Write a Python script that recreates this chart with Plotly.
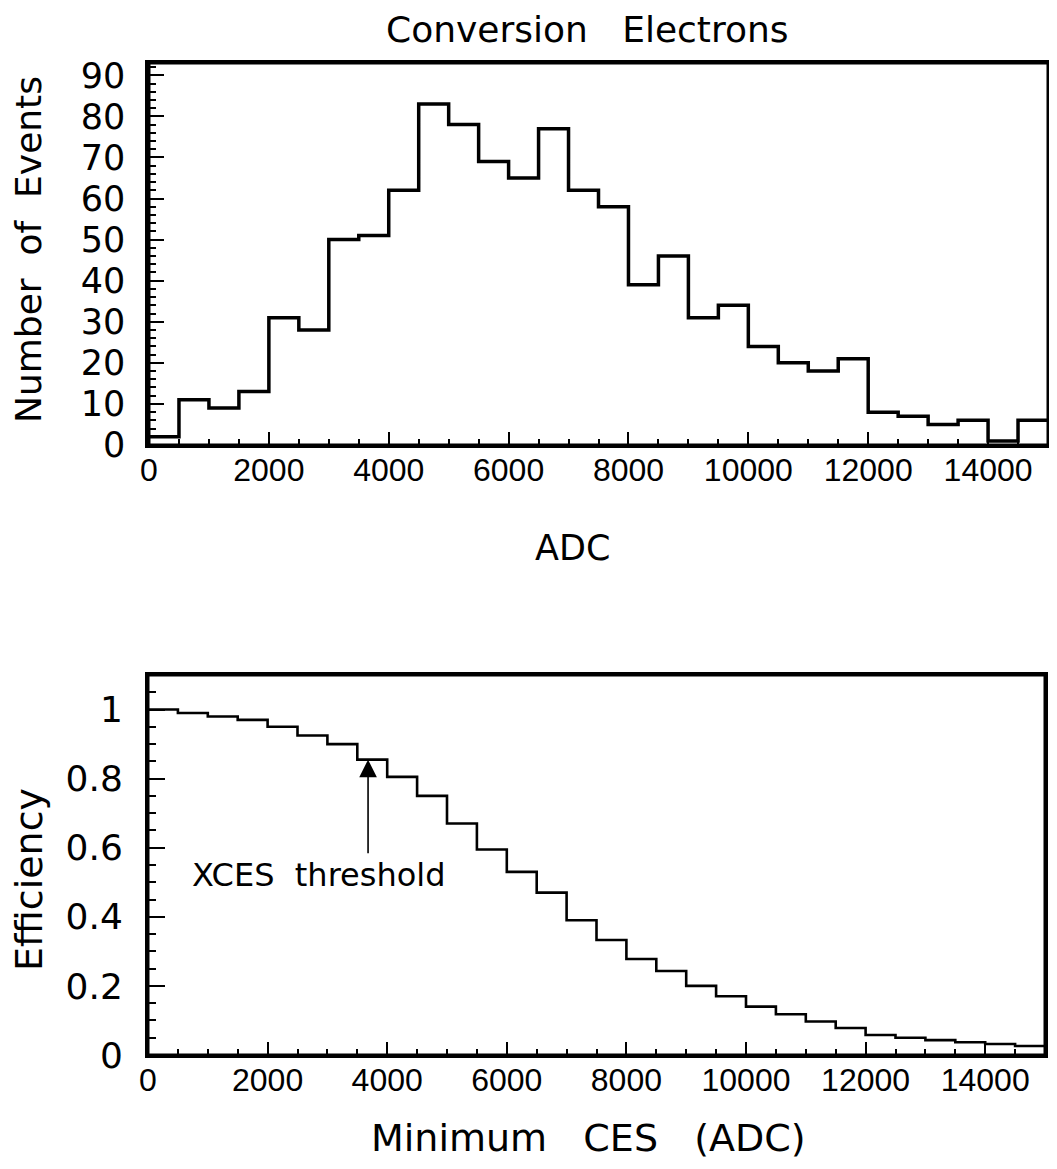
import plotly.graph_objects as go

# ---- data ----
bin_edges = [0, 500, 1000, 1500, 2000, 2500, 3000, 3500, 4000, 4500, 5000,
             5500, 6000, 6500, 7000, 7500, 8000, 8500, 9000, 9500, 10000,
             10500, 11000, 11500, 12000, 12500, 13000, 13500, 14000, 14500, 15000]
events = [2, 11, 9, 13, 31, 28, 50, 51, 62, 83, 78, 69, 65, 77, 62, 58,
          39, 46, 31, 34, 24, 20, 18, 21, 8, 7, 5, 6, 1, 6]
efficiency = [1.0, 0.99, 0.98, 0.97, 0.95, 0.925, 0.90, 0.855, 0.805, 0.75,
              0.67, 0.595, 0.53, 0.47, 0.39, 0.333, 0.278, 0.243, 0.20, 0.17,
              0.14, 0.118, 0.097, 0.078, 0.058, 0.05, 0.043, 0.037, 0.032, 0.026]
x_tick_vals = [0, 2000, 4000, 6000, 8000, 10000, 12000, 14000]
x_tick_text = ["0", "2000", "4000", "6000", "8000", "10000", "12000", "14000"]
y1_tick_vals = [0, 10, 20, 30, 40, 50, 60, 70, 80, 90]
y2_tick_vals = [0, 0.2, 0.4, 0.6, 0.8, 1.0]
y2_tick_text = ["0", "0.2", "0.4", "0.6", "0.8", "1"]

threshold_x = 3680
threshold_tip = 0.855
threshold_tail = 0.58

MAIN = "DejaVu Sans"
NARROW = "Liberation Sans"

# positions below are in figure pixels (the page adds an 8px body margin)
W, H = 1057, 1169

fig = go.Figure()
fig.add_trace(go.Scatter(x=bin_edges, y=events + [events[-1]], mode="lines",
                         line=dict(shape="hv", color="black", width=3.5),
                         xaxis="x", yaxis="y", showlegend=False))
fig.add_trace(go.Scatter(x=bin_edges, y=efficiency + [efficiency[-1]], mode="lines",
                         line=dict(shape="hv", color="black", width=2.6),
                         xaxis="x2", yaxis="y2", showlegend=False))

xcommon = dict(range=[0, 15000], tickvals=x_tick_vals, ticktext=x_tick_text,
               ticks="inside", ticklen=13, tickwidth=2, tickcolor="black",
               minor=dict(dtick=500, ticks="inside", ticklen=6, tickwidth=2, tickcolor="black"),
               showline=True, mirror=True, linecolor="black", linewidth=3,
               showgrid=False, zeroline=False, automargin=False,
               ticklabelstandoff=-5,
               tickfont=dict(family=NARROW, size=32, color="black"))

fig.update_layout(
    width=W, height=H,
    margin=dict(l=0, r=0, t=0, b=0),
    paper_bgcolor="white", plot_bgcolor="white",
    xaxis=dict(domain=[141 / W, 1040 / W], anchor="y", **xcommon),
    yaxis=dict(domain=[1 - 437 / H, 1 - 55 / H], anchor="x", range=[0, 93],
               tickvals=y1_tick_vals, ticks="inside", ticklen=15, tickwidth=2,
               tickcolor="black",
               minor=dict(dtick=2, ticks="inside", ticklen=7, tickwidth=2, tickcolor="black"),
               showline=True, mirror=True, linecolor="black", linewidth=3.5,
               showgrid=False, zeroline=False, automargin=False,
               ticklabelstandoff=13,
               tickfont=dict(family=MAIN, size=35, color="black")),
    xaxis2=dict(domain=[140 / W, 1037 / W], anchor="y2", **xcommon),
    yaxis2=dict(domain=[1 - 1047 / H, 1 - 667 / H], anchor="x2", range=[0, 1.1],
                tickvals=y2_tick_vals, ticktext=y2_tick_text, ticks="inside",
                ticklen=17, tickwidth=2, tickcolor="black",
                minor=dict(dtick=0.05, ticks="inside", ticklen=8, tickwidth=2, tickcolor="black"),
                showline=True, mirror=True, linecolor="black", linewidth=3,
                showgrid=False, zeroline=False, automargin=False,
                ticklabelstandoff=15,
                tickfont=dict(family=MAIN, size=36, color="black")),
)

# frame each panel explicitly so the right-hand border is always drawn
for xr, yr in (("x domain", "y domain"), ("x2 domain", "y2 domain")):
    fig.add_shape(type="rect", xref=xr, yref=yr, x0=0, x1=1, y0=0, y1=1,
                  line=dict(color="black", width=3), fillcolor="rgba(0,0,0,0)",
                  layer="above")

def txt(text, x, y, size, angle=0, family=MAIN):
    fig.add_annotation(text=text, x=x / W, y=1 - y / H, xref="paper", yref="paper",
                       xanchor="center", yanchor="middle", showarrow=False,
                       textangle=angle, font=dict(family=family, size=size, color="black"))

S2 = "\u00a0\u00a0"
S3 = "\u00a0\u00a0\u00a0"
txt("Conversion" + S3 + "Electrons", 579, 21, 36)
txt("ADC", 564, 540, 35)
txt("Number" + S2 + "of" + S2 + "Events", 21, 242, 36, angle=-90)
txt("Efficiency", 21, 872, 38, angle=-90)
txt("Minimum" + S3 + "CES" + S3 + "(ADC)", 580, 1130, 38)

fig.add_annotation(x=threshold_x, y=threshold_tip, ax=threshold_x, ay=threshold_tail,
                   xref="x2", yref="y2", axref="x2", ayref="y2", text="",
                   showarrow=True, arrowhead=2, arrowsize=2.2, arrowwidth=1.6,
                   arrowcolor="black")
fig.add_annotation(x=2865, y=0.52, xref="x2", yref="y2", text="XCES" + S2 + "threshold",
                   showarrow=False, xanchor="center", yanchor="middle",
                   font=dict(family=MAIN, size=32, color="black"))

fig.write_html("out.html")
